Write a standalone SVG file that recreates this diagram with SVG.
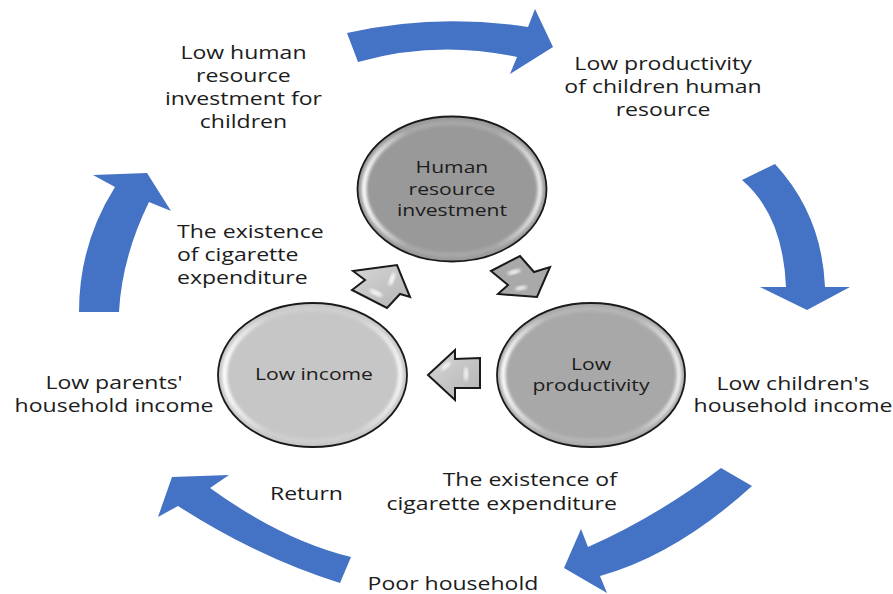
<svg xmlns="http://www.w3.org/2000/svg" width="893" height="594" viewBox="0 0 893 594">
  <defs>
    <linearGradient id="rim" x1="0" y1="0" x2="1" y2="0">
      <stop offset="0" stop-color="#ffffff" stop-opacity="0.95"/>
      <stop offset="0.25" stop-color="#ffffff" stop-opacity="0.15"/>
      <stop offset="0.75" stop-color="#ffffff" stop-opacity="0.15"/>
      <stop offset="1" stop-color="#ffffff" stop-opacity="0.8"/>
    </linearGradient>
    <linearGradient id="smallGrad" x1="0" y1="0" x2="1" y2="1">
      <stop offset="0" stop-color="#d6d6d6"/>
      <stop offset="1" stop-color="#b4b4b4"/>
    </linearGradient>
    <filter id="soft" x="-10%" y="-10%" width="120%" height="120%">
      <feGaussianBlur stdDeviation="1.6"/>
    </filter>
  </defs>
  <style>
    .blue { fill: #4472C4; }
    .node { stroke: #1a1a1a; stroke-width: 1.8; }
    .rim { fill: none; stroke: url(#rim); stroke-width: 5; filter: url(#soft); }
    .small { fill: url(#smallGrad); stroke: #1a1a1a; stroke-width: 2; stroke-linejoin: miter; }
    .hl { fill: #ffffff; opacity: 0.85; filter: url(#soft); }
    .lbl { font-family: "Open Sans", "Liberation Sans", sans-serif; font-size: 18px; fill: #1c1c1c; }
    .in { font-family: "Open Sans", "Liberation Sans", sans-serif; font-size: 16.5px; fill: #1c1c1c; }
    .c { text-anchor: middle; }
    .e { text-anchor: end; }
  </style>
  <rect width="893" height="594" fill="#ffffff"/>

  <g id="connectors">
    <path class="blue" d="M347,33 Q436,13 528,27 L535,9 L553,47 L510,74 L517,57 Q437,40 358,62 Z"/>
    <path class="blue" d="M742,180 L775,164 Q822,215 825,287 L850,287 L807,310 L760,287 L786,287 Q783,215 742,180 Z"/>
    <path class="blue" d="M721,468 L752,486 Q676,555 600,576 L607,593 L564,568 L581,529 L588,547 Q656,517 721,468 Z"/>
    <path class="blue" d="M351,557 L340,583 Q259,558 178,506 L158,517 L172,477 L229,475 L210,488 Q282,540 351,557 Z"/>
    <path class="blue" d="M79,312 Q79,244 115,187 L93,175 L147,173 L171,211 L149,202 Q122,257 119,312 Z"/>

    <g id="arrow-up-right">
      <polygon class="small" points="353,271 397,265 410,297 400,294 387,308 352,290 365,280"/>
      <ellipse class="hl" cx="392" cy="279" rx="2.5" ry="7" transform="rotate(20 392 279)"/>
      <ellipse class="hl" cx="376" cy="293" rx="7" ry="2.5" transform="rotate(25 376 293)"/>
    </g>
    <g id="arrow-down-right">
      <polygon class="small" points="491,271 520,256 534,272 550,267 537,297 498,294 508,285" style="fill:#a9a9a9"/>
      <ellipse class="hl" cx="514" cy="272" rx="7" ry="2.2" transform="rotate(-15 514 272)"/>
      <ellipse class="hl" cx="521" cy="288" rx="6" ry="2" transform="rotate(-10 521 288)"/>
    </g>
    <g id="arrow-left">
      <polygon class="small" points="428,375 455,350 455,359 480,358 480,388 455,388 455,400"/>
      <ellipse class="hl" cx="446" cy="366" rx="6" ry="2" transform="rotate(-40 446 366)"/>
      <ellipse class="hl" cx="466" cy="374" rx="2" ry="7"/>
    </g>
  </g>

  <g id="node-human-resource-investment">
    <ellipse class="node" cx="452" cy="189" rx="94.5" ry="72.5" fill="#999999"/>
    <ellipse class="rim" cx="452" cy="189" rx="88" ry="66"/>
    <g transform="scale(1.28,1)">
      <text class="in c" x="353.1" y="173">Human</text>
      <text class="in c" x="353.1" y="195">resource</text>
      <text class="in c" x="353.1" y="216">investment</text>
    </g>
  </g>

  <g id="node-low-income">
    <ellipse class="node" cx="312.5" cy="375" rx="94.5" ry="72" fill="#c6c6c6"/>
    <ellipse class="rim" cx="312.5" cy="375" rx="88" ry="66"/>
    <g transform="scale(1.28,1)">
      <text class="in c" x="245.3" y="380">Low income</text>
    </g>
  </g>

  <g id="node-low-productivity">
    <ellipse class="node" cx="591" cy="375" rx="94" ry="72" fill="#a8a8a8"/>
    <ellipse class="rim" cx="591" cy="375" rx="88" ry="66"/>
    <g transform="scale(1.28,1)">
      <text class="in c" x="461.7" y="370">Low</text>
      <text class="in c" x="461.7" y="391">productivity</text>
    </g>
  </g>

  <g id="label-low-hr-investment" transform="scale(1.28,1)">
    <text class="lbl c" x="190.2" y="59">Low human</text>
    <text class="lbl c" x="190.2" y="82">resource</text>
    <text class="lbl c" x="190.2" y="105">investment for</text>
    <text class="lbl c" x="190.2" y="128">children</text>
  </g>

  <g id="label-low-productivity-children" transform="scale(1.28,1)">
    <text class="lbl c" x="518" y="70">Low productivity</text>
    <text class="lbl c" x="518" y="93">of children human</text>
    <text class="lbl c" x="518" y="116">resource</text>
  </g>

  <g id="label-cigarette-left" transform="scale(1.28,1)">
    <text class="lbl" x="138.3" y="238">The existence</text>
    <text class="lbl" x="138.3" y="261">of cigarette</text>
    <text class="lbl" x="138.3" y="284">expenditure</text>
  </g>

  <g id="label-low-parents-income" transform="scale(1.28,1)">
    <text class="lbl c" x="89.1" y="389">Low parents'</text>
    <text class="lbl c" x="89.1" y="412">household income</text>
  </g>

  <g id="label-low-children-income" transform="scale(1.28,1)">
    <text class="lbl c" x="619.5" y="390">Low children's</text>
    <text class="lbl c" x="619.5" y="412">household income</text>
  </g>

  <g id="label-cigarette-bottom" transform="scale(1.28,1)">
    <text class="lbl e" x="482" y="486">The existence of</text>
    <text class="lbl e" x="482" y="510">cigarette expenditure</text>
  </g>

  <g id="label-return" transform="scale(1.28,1)">
    <text class="lbl" x="210.9" y="500">Return</text>
  </g>

  <g id="label-poor-household" transform="scale(1.28,1)">
    <text class="lbl c" x="353.9" y="590">Poor household</text>
  </g>
</svg>
